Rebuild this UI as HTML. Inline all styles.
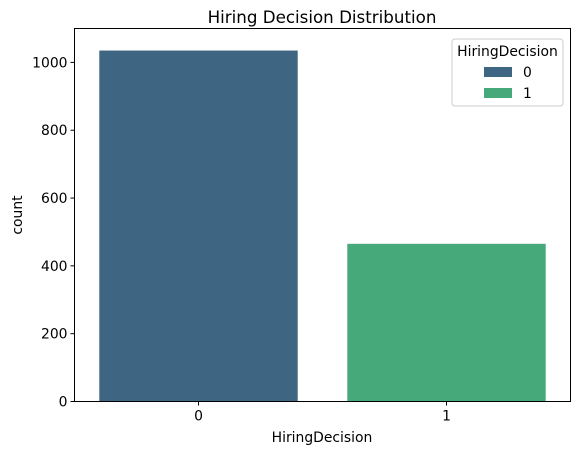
<!DOCTYPE html>
<html><head><meta charset="utf-8"><style>
body{margin:0;background:#fff;}
svg text{font-family:"DejaVu Sans","Liberation Sans",sans-serif;fill:#000;}
</style></head><body>
<svg id="chart" width="580" height="455" viewBox="0 0 580 455" xmlns="http://www.w3.org/2000/svg">
<text x="322" y="23" text-anchor="middle" font-size="16.7">Hiring Decision Distribution</text>
<g id="marks"></g>
<rect x="74.5" y="28.5" width="496" height="373" fill="none" stroke="#000" stroke-width="1"/>
<g id="yticks"></g><g id="xticks"></g>
<text x="322" y="442" text-anchor="middle" font-size="13.9">HiringDecision</text>
<text transform="translate(22,215) rotate(-90)" text-anchor="middle" font-size="13.9">count</text>
<g>
<rect x="452" y="39" width="111" height="67" rx="3" fill="#fff" fill-opacity="0.8" stroke="#ccc"/>
<text x="507.5" y="56" text-anchor="middle" font-size="13.9">HiringDecision</text>
<rect x="484" y="67" width="28" height="10" fill="#3e6581"/>
<text x="523" y="77" font-size="13.9">0</text>
<rect x="484" y="88" width="28" height="10" fill="#46a97a"/>
<text x="523" y="98" font-size="13.9">1</text>
</g>
</svg>
<script>
const categories=["0","1"];
const counts=[1035,465];
const yTicks=[0,200,400,600,800,1000];
const colors=["#3e6581","#46a97a"];
const NS="http://www.w3.org/2000/svg";
const L=74.5,R=570.5,T=28.5,B=401.5,ymax=1100;
const y=v=>B-v/ymax*(B-T);
const step=(R-L)/categories.length;
const xc=i=>L+step*(i+0.5);
const marks=document.getElementById('marks'),yt=document.getElementById('yticks'),xt=document.getElementById('xticks');
function mk(tag,attrs,parent){const e=document.createElementNS(NS,tag);for(const k in attrs)e.setAttribute(k,attrs[k]);parent.appendChild(e);return e;}
categories.forEach((c,i)=>{
  const w=step*0.8;
  const r=mk('rect',{x:xc(i)-w/2,y:y(counts[i]),width:w,height:B-y(counts[i]),fill:colors[i]},marks);
  
  
  const t=mk('line',{x1:xc(i),x2:xc(i),y1:B,y2:B+4,stroke:'#000'},xt);
  
  
  const tx=mk('text',{x:xc(i),y:B+19,'text-anchor':'middle','font-size':13.9},xt);
  tx.textContent=c;
  
  
});
yTicks.forEach(v=>{
  const t=mk('line',{x1:L-4,x2:L,y1:y(v),y2:y(v),stroke:'#000'},yt);
  
  
  const tx=mk('text',{x:L-7,y:y(v)+5,'text-anchor':'end','font-size':13.9},yt);
  tx.textContent=v;
  
  
});
</script>
</body></html>
